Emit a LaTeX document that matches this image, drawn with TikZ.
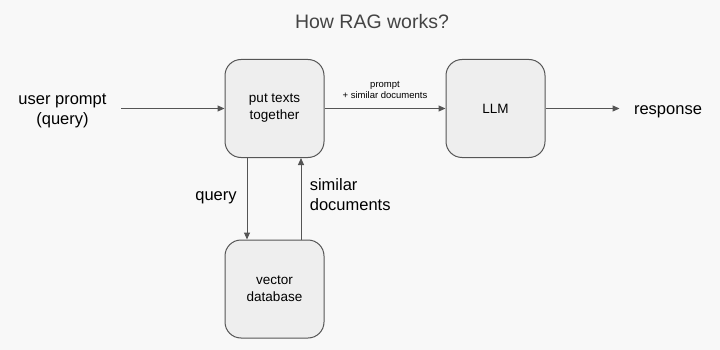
\documentclass[tikz,border=0pt]{standalone}
\usepackage{fontspec}
\setmainfont{Liberation Sans}
\usetikzlibrary{arrows.meta}
\definecolor{paper}{HTML}{F8F8F8}
\definecolor{boxfill}{HTML}{EEEEEE}
\definecolor{edgegray}{HTML}{555555}
\definecolor{titlegray}{HTML}{444444}

\begin{document}
\begin{tikzpicture}[x=1pt, y=-1pt,
	block/.style={draw=edgegray, fill=boxfill, line width=1pt, rounded corners=16pt, minimum width=99pt, minimum height=98pt, align=center, font=\fontsize{13.5}{17}\selectfont},
	wire/.style={draw=edgegray, line width=1pt, -{Triangle[length=7pt, width=6pt]}},
	lbl/.style={align=center, font=\fontsize{16.5}{20}\selectfont}]
	% Page and title:
	\fill[paper] (0, 0) rectangle (720, 350);
	\useasboundingbox (0, 0) rectangle (720, 350);
	\node[anchor=base, text=titlegray, font=\fontsize{19.5}{23}\selectfont] (title) at (372, 29){How RAG works?};
	% Blocks:
	\node[block] (texts) at (274.5, 108.5){put texts\\together};
	\node[block] (llm) at (495.5, 108.5){LLM};
	\node[block] (vecdb) at (274.5, 289){vector\\database};
	% Outer labels:
	\node[lbl] (prompt) at (62.5, 111){user prompt\\(query)};
	\node[lbl, anchor=base] (resp) at (668, 115){response};
	% Paths and arrows:
	\draw[wire, shorten <=11pt] (prompt.east |- texts.west) -- (texts.west);
	\draw[wire] (texts.east) -- (llm.west) node[midway, above, align=center, font=\fontsize{9.5}{11.5}\selectfont, yshift=6pt] (mixlbl){prompt\\+ similar documents};
	\draw[wire, shorten >=11pt] (llm.east) -- (resp.west |- llm.east);
	\draw[wire] ([xshift=-27.5pt]texts.south) -- ([xshift=-27.5pt]vecdb.north) node[midway, lbl, anchor=base, xshift=-31pt, yshift=-2pt] (qlbl){query};
	\draw[wire] ([xshift=26.5pt]vecdb.north) -- ([xshift=26.5pt]texts.south) node[midway, lbl, anchor=west, align=left, xshift=5pt, yshift=4pt] (simlbl){similar\\documents};
\end{tikzpicture}
\end{document}
